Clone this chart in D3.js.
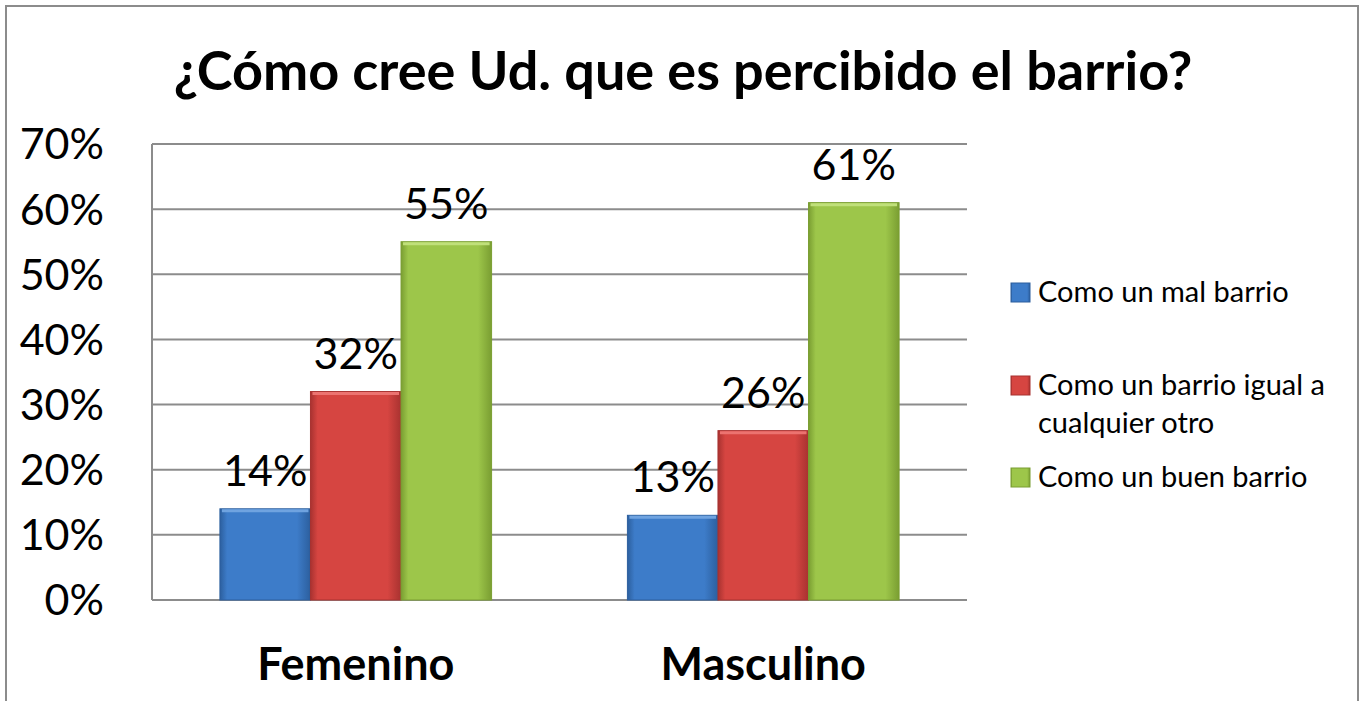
<!DOCTYPE html>
<html>
<head>
<meta charset="utf-8">
<script src="https://cdn.jsdelivr.net/npm/d3@7"></script>
<style>
  body { margin: 0; background: #fff; }
  svg { display: block; font-family: Lato, "Open Sans", sans-serif; }
</style>
</head>
<body>
<div id="chart"></div>
<script>
const categories = ["Femenino", "Masculino"];
const series = ["Como un mal barrio", "Como un barrio igual a cualquier otro", "Como un buen barrio"];
const values = {
  "Femenino": [0.14, 0.32, 0.55],
  "Masculino": [0.13, 0.26, 0.61]
};
const ticks = [0, 0.1, 0.2, 0.3, 0.4, 0.5, 0.6, 0.7];
const legendLines = [["Como un mal barrio"], ["Como un barrio igual a", "cualquier otro"], ["Como un buen barrio"]];

const width = 1362, height = 701;
const colors = [
  { base: "#3d7cc9", dark: "#2c5f9e", light: "#6fa3e0" },
  { base: "#d64541", dark: "#a83230", light: "#ec7370" },
  { base: "#9dc64a", dark: "#7a9e32", light: "#c0e07a" }
];

const svg = d3.select("#chart")
  .append("svg")
  .attr("width", width)
  .attr("height", height);

// gradients for the bevel look
const defs = svg.append("defs");
colors.forEach((c, i) => {
  const g = defs.append("linearGradient")
    .attr("id", "grad" + i)
    .attr("x1", 0).attr("x2", 1).attr("y1", 0).attr("y2", 0);
  g.append("stop").attr("offset", "0%").attr("stop-color", c.dark);
  g.append("stop").attr("offset", "8%").attr("stop-color", c.base);
  g.append("stop").attr("offset", "85%").attr("stop-color", c.base);
  g.append("stop").attr("offset", "100%").attr("stop-color", c.dark);
});

// outer frame
svg.append("rect")
  .attr("x", 6).attr("y", 6)
  .attr("width", 1352).attr("height", 720)
  .attr("fill", "none")
  .attr("stroke", "#8c8c8c")
  .attr("stroke-width", 2);

svg.append("text")
  .attr("x", 683)
  .attr("y", 90)
  .attr("text-anchor", "middle")
  .attr("font-weight", "bold")
  .attr("font-size", 54)
  .text("¿Cómo cree Ud. que es percibido el barrio?");

const plotLeft = 152, plotRight = 967, plotTop = 144, plotBottom = 600;

const y = d3.scaleLinear().domain([0, 0.7]).range([plotBottom, plotTop]);
const x0 = d3.scaleBand().domain(categories).range([plotLeft, plotRight])
  .paddingInner(1 / 3).paddingOuter(1 / 6);
const x1 = d3.scaleBand().domain(series).range([0, x0.bandwidth()]);

// gridlines
svg.append("g")
  .selectAll("line")
  .data(ticks)
  .join("line")
  .attr("x1", plotLeft).attr("x2", plotRight)
  .attr("y1", d => y(d)).attr("y2", d => y(d))
  .attr("stroke", "#8c8c8c")
  .attr("stroke-width", 2);

svg.append("line")
  .attr("x1", plotLeft).attr("x2", plotLeft)
  .attr("y1", plotTop).attr("y2", plotBottom)
  .attr("stroke", "#8c8c8c")
  .attr("stroke-width", 2);

// y tick labels
svg.append("g")
  .selectAll("text")
  .data(ticks)
  .join("text")
  .attr("x", 104)
  .attr("y", d => y(d))
  .attr("dy", "0.36em")
  .attr("text-anchor", "end")
  .attr("font-size", 43)
  .text(d => d3.format(".0%")(d));

// bars
const groups = svg.append("g")
  .selectAll("g")
  .data(categories)
  .join("g")
  .attr("transform", d => `translate(${x0(d)},0)`);

const barData = c => values[c].map((v, i) => ({ s: series[i], v, i }));

groups.selectAll("rect")
  .data(barData)
  .join("rect")
  .attr("x", d => x1(d.s))
  .attr("y", d => y(d.v))
  .attr("width", x1.bandwidth())
  .attr("height", d => plotBottom - y(d.v))
  .attr("fill", d => `url(#grad${d.i})`)
  .attr("stroke", d => colors[d.i].dark)
  .attr("stroke-width", 1);

// top highlight
groups.selectAll("line.hl")
  .data(barData)
  .join("line")
  .attr("class", "hl")
  .attr("x1", d => x1(d.s) + 2)
  .attr("x2", d => x1(d.s) + x1.bandwidth() - 2)
  .attr("y1", d => y(d.v) + 2)
  .attr("y2", d => y(d.v) + 2)
  .attr("stroke", d => colors[d.i].light)
  .attr("stroke-width", 3);

// data labels
groups.selectAll("text")
  .data(barData)
  .join("text")
  .attr("x", d => x1(d.s) + x1.bandwidth() / 2)
  .attr("y", d => y(d.v) - 23)
  .attr("text-anchor", "middle")
  .attr("font-size", 43)
  .text(d => d3.format(".0%")(d.v));

// category labels
svg.append("g")
  .selectAll("text")
  .data(categories)
  .join("text")
  .attr("x", d => x0(d) + x0.bandwidth() / 2)
  .attr("y", 680)
  .attr("text-anchor", "middle")
  .attr("font-weight", "bold")
  .attr("font-size", 45)
  .text(d => d);

// legend
const legendY = [292, 385, 477];
const legend = svg.append("g")
  .selectAll("g")
  .data(series)
  .join("g")
  .attr("transform", (d, i) => `translate(1011,${legendY[i]})`);

legend.append("rect")
  .attr("x", 0).attr("y", -9)
  .attr("width", 19).attr("height", 19)
  .attr("fill", (d, i) => `url(#grad${i})`)
  .attr("stroke", (d, i) => colors[i].dark);

legend.append("text")
  .attr("x", 27)
  .attr("y", 0)
  .attr("font-size", 29)
  .selectAll("tspan")
  .data((d, i) => legendLines[i])
  .join("tspan")
  .attr("x", 27)
  .attr("dy", (d, j) => j === 0 ? "0.36em" : "1.31em")
  .text(d => d);
</script>
</body>
</html>
